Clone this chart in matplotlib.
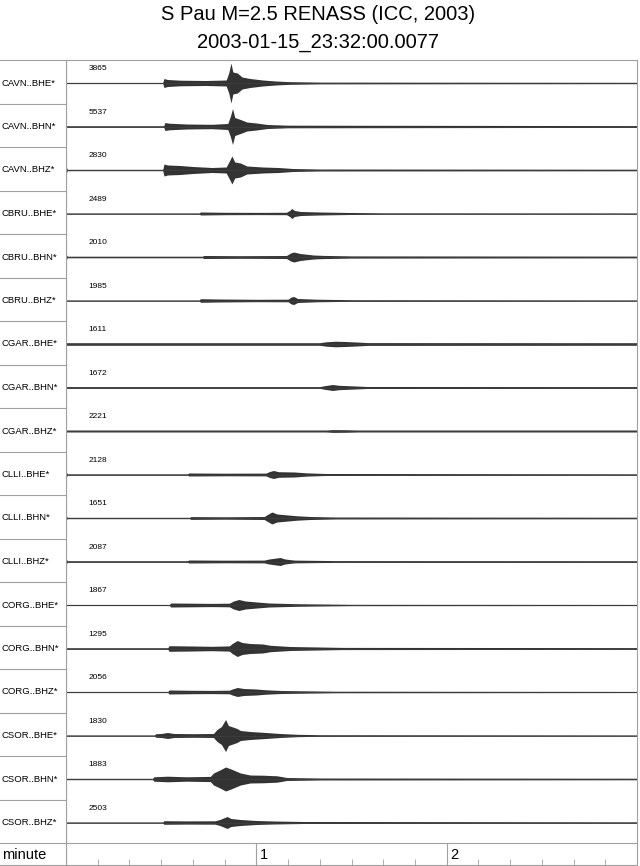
import matplotlib
matplotlib.use("Agg")
import matplotlib.pyplot as plt
import numpy as np

plt.rcParams["font.family"] = ["Liberation Sans", "DejaVu Sans"]

# Data
title_1 = "S Pau M=2.5 RENASS (ICC, 2003)"
title_2 = "2003-01-15_23:32:00.0077"

stations = ["CAVN..BHE*", "CAVN..BHN*", "CAVN..BHZ*",
            "CBRU..BHE*", "CBRU..BHN*", "CBRU..BHZ*",
            "CGAR..BHE*", "CGAR..BHN*", "CGAR..BHZ*",
            "CLLI..BHE*", "CLLI..BHN*", "CLLI..BHZ*",
            "CORG..BHE*", "CORG..BHN*", "CORG..BHZ*",
            "CSOR..BHE*", "CSOR..BHN*", "CSOR..BHZ*"]
max_counts = [3865, 5537, 2830, 2489, 2010, 1985, 1611, 1672, 2221,
              2128, 1651, 2087, 1867, 1295, 2056, 1830, 1883, 2503]

# Envelope of each trace: (seconds, half-height in px)
CAVN_BHE = [(0, .6), (30.5, .6), (30.9, 4.5), (32, 3.5), (36, 2.8), (44, 2.5), (50.5, 3),
            (51.3, 10), (52, 20), (52.6, 11), (54, 10), (55.5, 6), (58, 4.5), (62, 3),
            (66, 2), (70, 1.4), (80, .9), (180, .7)]
CAVN_BHN = [(0, .8), (30.8, .8), (31.2, 4), (32.5, 3.3), (38, 2.5), (46, 2.2), (51, 3),
            (51.8, 10), (52.5, 18), (53.2, 9), (55, 7), (57, 4.5), (60, 3.5), (63.5, 2),
            (70, 1.3), (180, .9)]
CAVN_BHZ = [(0, 4), (.4, .7), (30.5, .7), (30.9, 6), (32, 5), (36, 4.5), (40, 3.5), (46, 2.5),
            (50.5, 3), (51.5, 9), (52.3, 14), (53.2, 8), (55, 7), (57, 4), (62, 3),
            (67, 2.5), (71.5, 1.5), (80, 1), (180, .8)]
CBRU_BHE = [(0, .6), (42, .6), (42.4, 1.5), (50, 1.2), (60, 1.1), (69.5, 1.2), (70.5, 3),
            (71.2, 5), (72, 3), (74, 2), (80, 1.5), (89.5, 1), (100, .7), (180, .6)]
CBRU_BHN = [(0, 3), (.4, .8), (43, .8), (43.4, 1.5), (55, 1.3), (69.5, 1.5), (70.8, 4),
            (71.8, 5), (73.8, 3.5), (78, 2), (81, 1.6), (90, 1.1), (180, .9)]
CBRU_BHZ = [(0, .6), (42, .6), (42.4, 1.8), (48, 1.5), (60, 1.2), (70, 1.3), (71, 3.5),
            (71.8, 4), (73, 2), (79, 1.3), (90, .8), (180, .6)]
CGAR_BHE = [(0, 1.3), (80, 1.3), (82, 2.2), (85, 2.8), (88, 2.5), (91.5, 2), (95, 1.4),
            (180, 1.3)]
CGAR_BHN = [(0, .9), (80, .9), (81.5, 1.8), (84, 3), (86, 2.2), (90.5, 1.6), (95, 1),
            (180, .9)]
CGAR_BHZ = [(0, 1), (82, 1), (84, 1.4), (88, 1.3), (92, 1), (180, 1)]
CLLI_BHE = [(0, 3.5), (.4, .7), (38.3, .7), (38.7, 1.5), (50, 1.3), (63, 1.4), (64.2, 3),
            (65.4, 4), (67, 2.8), (72, 2.5), (76, 1.6), (82, 1), (180, .7)]
CLLI_BHN = [(0, 2.5), (.4, .7), (39, .7), (39.3, 1.4), (50, 1.2), (62.5, 1.5), (63.8, 4),
            (64.9, 6), (66.5, 4), (70, 3), (72.8, 2.2), (77, 1.5), (85, 1), (180, .8)]
CLLI_BHZ = [(0, 3.5), (.4, .8), (38.3, .8), (38.7, 1.5), (50, 1.3), (62.5, 1.4), (64, 2.5),
            (67.5, 4), (69, 2.5), (72, 1.4), (77, 1.2), (85, .9), (180, .8)]
CORG_BHE = [(0, .6), (32.6, .6), (33, 2), (40, 1.8), (46, 1.6), (51.5, 1.8), (52.8, 4),
            (54.5, 5.5), (56.5, 4), (60.2, 3), (64, 2), (72.8, 1.3), (81, 1), (90, .7),
            (180, .6)]
CORG_BHN = [(0, .8), (32.1, .8), (32.5, 2.8), (40, 2.5), (46, 2.2), (51.5, 2.6), (52.4, 5),
            (54, 8), (55.5, 6), (58, 5), (62, 4.5), (64.4, 3.2), (70.7, 2), (80, 1.5),
            (87, 1.1), (180, .9)]
CORG_BHZ = [(0, .6), (32.1, .6), (32.5, 2), (40, 1.7), (46, 1.6), (51.5, 1.8), (52.4, 3),
            (54, 4.5), (56, 3.5), (60, 3), (63, 2.2), (68, 1.5), (74.8, 1.2), (85, .8),
            (180, .6)]
CSOR_BHE = [(0, .6), (27.9, .6), (28.3, 1.8), (30, 2), (32, 3), (34, 2), (40, 1.8),
            (46.5, 2), (47.6, 6), (49, 9), (50.3, 16), (51.2, 10), (53.9, 7), (55, 5),
            (58, 4), (62, 3.2), (67.5, 2), (72.8, 1.2), (80, .8), (180, .6)]
CSOR_BHN = [(0, .7), (27.3, .7), (27.7, 2.2), (32, 2.8), (38, 2.2), (45.5, 2.6), (46.5, 6),
            (48.5, 9), (50.3, 12), (52, 10), (55, 6), (58, 4), (62, 3.8), (66.5, 3.2),
            (69.6, 1.5), (80, 1), (180, .8)]
CSOR_BHZ = [(0, .6), (30.5, .6), (30.9, 1.8), (38, 1.6), (47, 1.7), (48.5, 3), (50.8, 6),
            (52, 4), (55, 3), (60, 2), (65.4, 1.5), (75, 1), (180, .7)]

traces = [CAVN_BHE, CAVN_BHN, CAVN_BHZ, CBRU_BHE, CBRU_BHN, CBRU_BHZ,
          CGAR_BHE, CGAR_BHN, CGAR_BHZ, CLLI_BHE, CLLI_BHN, CLLI_BHZ,
          CORG_BHE, CORG_BHN, CORG_BHZ, CSOR_BHE, CSOR_BHN, CSOR_BHZ]

minor_secs = [s for s in range(10, 180, 10) if s % 60]
minute_marks = [60, 120]
minute_labels = ["1", "2"]

# Layout (pixels of a 640x866 image)
W, H = 640, 866
left, right, top, bottom = 66, 637, 60, 843
row_px = (bottom - top) / len(stations)
base_off = 23 / row_px
grid_col = "#a0a0a0"

fig = plt.figure(figsize=(W / 100, H / 100), dpi=100)

ax = fig.add_axes([left / W, 1 - bottom / H, (right - left) / W, (bottom - top) / H])
lab = fig.add_axes([0, 1 - bottom / H, left / W, (bottom - top) / H])
tax = fig.add_axes([left / W, 1 / H, (right - left) / W, (H - 1 - bottom) / H])
mlab = fig.add_axes([0, 1 / H, left / W, (H - 1 - bottom) / H])

n = len(stations)
for a in (ax, lab):
    a.set_ylim(n, 0)
ax.set_xlim(0, 180)
lab.set_xlim(0, 1)

for i, (name, cnt, tr) in enumerate(zip(stations, max_counts, traces)):
    t = np.array([p[0] for p in tr])
    amp = np.array([p[1] for p in tr]) / row_px
    base = i + base_off
    # thin baseline plus the envelope of the wiggles
    ax.axhline(base, color="#404040", lw=0.5)
    ax.fill_between(t, base - amp, base + amp, color="black", lw=0, alpha=0.8)
    ax.text(7, i + 0.2, str(cnt), fontsize=6, ha="left", va="center")
    lab.text(0.03, base, name, fontsize=6.8, ha="left", va="center")
    if i > 0:
        lab.axhline(i, color=grid_col, lw=0.8)

for a in (ax, lab, tax, mlab):
    a.set_xticks([])
    a.set_yticks([])
    for s in a.spines.values():
        s.set_color(grid_col)
        s.set_linewidth(0.8)
ax.spines["bottom"].set_visible(False)
lab.spines["bottom"].set_visible(False)
lab.spines["left"].set_visible(False)
mlab.spines["left"].set_visible(False)

# time axis row
tax.set_xlim(0, 180)
tax.set_ylim(0, 1)
tax.set_xticks(minor_secs)
tax.set_xticklabels([])
tax.tick_params(axis="x", direction="in", length=4, width=0.6, color=grid_col, pad=0)
for m, lbl in zip(minute_marks, minute_labels):
    tax.axvline(m, color=grid_col, lw=0.8)
    tax.text(m + 1, 0.45, lbl, fontsize=10.5, ha="left", va="center")
mlab.text(0.03, 0.45, "minute", fontsize=10.5, ha="left", va="center",
          transform=mlab.transAxes)

fig.text(0.497, 1 - 14 / H, title_1, fontsize=14.5, ha="center", va="center")
fig.text(0.497, 1 - 43 / H, title_2, fontsize=14.5, ha="center", va="center")

fig.savefig("out.png", dpi=100)
plt.close(fig)
